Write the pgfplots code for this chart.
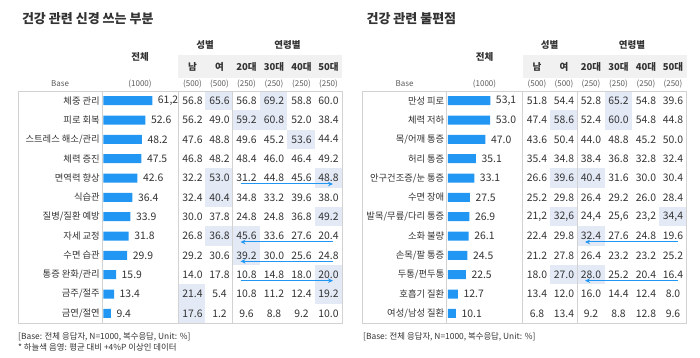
\documentclass[border=0pt]{standalone}
\usepackage{pgfplots}
\pgfplotsset{compat=1.18}
\usepackage{pgfplotstable}
\usetikzlibrary{arrows.meta}
\usepackage{fontspec}
\setmainfont{Noto Sans CJK KR}
\definecolor{barc}{RGB}{33,150,243}
\definecolor{hlc}{RGB}{227,234,246}
\definecolor{bandc}{RGB}{241,241,241}
\definecolor{linec}{RGB}{210,210,210}
\definecolor{txt}{RGB}{51,51,51}
\definecolor{gtxt}{RGB}{90,90,90}
\newcommand{\fs}[1]{\fontsize{#1}{#1}\selectfont}

\pgfplotstableread[col sep=semicolon]{
row;label;tot;totlab;m;f;a;b;c;d
1;체중 관리;61.2;61,2;56.8;65.6;56.8;69.2;58.8;60.0
2;피로 회복;52.6;52.6;56.2;49.0;59.2;60.8;52.0;38.4
3;스트레스 해소/관리;48.2;48.2;47.6;48.8;49.6;45.2;53.6;44.4
4;체력 증진;47.5;47.5;46.8;48.2;48.4;46.0;46.4;49.2
5;면역력 향상;42.6;42.6;32.2;53.0;31.2;44.8;45.6;48.8
6;식습관;36.4;36.4;32.4;40.4;34.8;33.2;39.6;38.0
7;질병/질환 예방;33.9;33.9;30.0;37.8;24.8;24.8;36.8;49.2
8;자세 교정;31.8;31.8;26.8;36.8;45.6;33.6;27.6;20.4
9;수면 습관;29.9;29.9;29.2;30.6;39.2;30.0;25.6;24.8
10;통증 완화/관리;15.9;15.9;14.0;17.8;10.8;14.8;18.0;20.0
11;금주/절주;13.4;13.4;21.4;5.4;10.8;11.2;12.4;19.2
12;금연/절연;9.4;9.4;17.6;1.2;9.6;8.8;9.2;10.0
}\Ltab

\pgfplotstableread[col sep=semicolon]{
row;label;tot;totlab;m;f;a;b;c;d
1;만성 피로;53.1;53,1;51.8;54.4;52.8;65.2;54.8;39.6
2;체력 저하;53.0;53.0;47.4;58.6;52.4;60.0;54.8;44.8
3;목/어깨 통증;47.0;47.0;43.6;50.4;44.0;48.8;45.2;50.0
4;허리 통증;35.1;35.1;35.4;34.8;38.4;36.8;32.8;32.4
5;안구건조증/눈 통증;33.1;33.1;26.6;39.6;40.4;31.6;30.0;30.4
6;수면 장애;27.5;27.5;25.2;29.8;26.4;29.2;26.0;28.4
7;발목/무릎/다리 통증;26.9;26.9;21,2;32,6;24,4;25,6;23,2;34,4
8;소화 불량;26.1;26.1;22.4;29.8;32.4;27.6;24.8;19.6
9;손목/팔 통증;24.5;24.5;21.2;27.8;26.4;23.2;23.2;25.2
10;두통/편두통;22.5;22.5;18.0;27.0;28.0;25.2;20.4;16.4
11;호흡기 질환;12.7;12.7;13.4;12.0;16.0;14.4;12.4;8.0
12;여성/남성 질환;10.1;10.1;6.8;13.4;9.2;8.8;12.8;9.6
}\Rtab

\pgfplotsset{
  txtcol/.style={draw=none, mark=none,
    nodes near coords, point meta=explicit symbolic,
    every node near coord/.append style={font=\fs{10.4}, text=txt, inner sep=0pt, anchor=center}},
  panel/.style={anchor=south west, scale only axis, height=357pt,
    ymin=0, ymax=357, y dir=reverse, xmin=0, hide axis, clip=false},
  barax/.style={anchor=south west, scale only axis, width=80pt, height=232pt,
    xmin=0, xmax=100, ymin=0.5, ymax=12.5, y dir=reverse, hide axis, clip=false,
    xbar, bar width=9pt}
}
% highlight cell: #1 column (1..6), #2 row
\newcommand{\myhl}[2]{\fill[hlc] (axis cs:{178+27.33*(#1-1)},{91+19.33*(#2-1)}) rectangle (axis cs:{178+27.33*#1},{91+19.33*#2});}
\newcommand{\myarR}[1]{\draw[barc, line width=1pt, -{Stealth[length=5pt,width=4.5pt]}] (axis cs:240.5,{91+19.33*(#1-0.5)+6}) -- (axis cs:333,{91+19.33*(#1-0.5)+6});}
\newcommand{\myarL}[1]{\draw[barc, line width=1pt, -{Stealth[length=5pt,width=4.5pt]}] (axis cs:333,{91+19.33*(#1-0.5)+6}) -- (axis cs:240.5,{91+19.33*(#1-0.5)+6});}
\newcommand{\myband}{%
  \fill[bandc] (axis cs:178,55) rectangle (axis cs:342,78);
}
\newcommand{\mylines}{%
  \draw[linec, line width=0.8pt] (axis cs:18,91) rectangle (axis cs:342,323);
  \draw[linec, line width=0.8pt] (axis cs:102,91) -- (axis cs:102,323);
  \draw[linec, line width=0.8pt] (axis cs:178,91) -- (axis cs:178,323);
  \draw[linec, line width=0.8pt] (axis cs:232.7,91) -- (axis cs:232.7,323);
}
\newcommand{\myheaders}{%
  \node[font=\fs{9.5}\bfseries, text=txt] at (axis cs:140,57) {전체};
  \node[font=\fs{9.5}\bfseries, text=txt] at (axis cs:205,45) {성별};
  \node[font=\fs{9.5}\bfseries, text=txt] at (axis cs:287.5,45) {연령별};
  \node[font=\fs{9.5}\bfseries, text=txt] at (axis cs:192.5,67) {남};
  \node[font=\fs{9.5}\bfseries, text=txt] at (axis cs:219.5,67) {여};
  \node[font=\fs{9.5}\bfseries, text=txt] at (axis cs:246.5,67) {20대};
  \node[font=\fs{9.5}\bfseries, text=txt] at (axis cs:274,67) {30대};
  \node[font=\fs{9.5}\bfseries, text=txt] at (axis cs:301.5,67) {40대};
  \node[font=\fs{9.5}\bfseries, text=txt] at (axis cs:328.5,67) {50대};
  \node[font=\fs{8}, text=gtxt] at (axis cs:60,84) {Base};
  \node[font=\fs{8}, text=gtxt] at (axis cs:140,84) {(1000)};
  \node[font=\fs{8}, text=gtxt] at (axis cs:192.5,84) {(500)};
  \node[font=\fs{8}, text=gtxt] at (axis cs:219.5,84) {(500)};
  \node[font=\fs{8}, text=gtxt] at (axis cs:246.5,84) {(250)};
  \node[font=\fs{8}, text=gtxt] at (axis cs:274,84) {(250)};
  \node[font=\fs{8}, text=gtxt] at (axis cs:301.5,84) {(250)};
  \node[font=\fs{8}, text=gtxt] at (axis cs:328.5,84) {(250)};
}
\newcommand{\mycols}[1]{%
  \addplot[txtcol, every node near coord/.append style={anchor=east, font=\fs{9.3}}] table[x expr=100, y expr={91+19.33*(\thisrow{row}-0.5)}, meta=label] {#1};
  \addplot[txtcol] table[x expr=192.5, y expr={91+19.33*(\thisrow{row}-0.5)}, meta=m] {#1};
  \addplot[txtcol] table[x expr=219.5, y expr={91+19.33*(\thisrow{row}-0.5)}, meta=f] {#1};
  \addplot[txtcol] table[x expr=246.5, y expr={91+19.33*(\thisrow{row}-0.5)}, meta=a] {#1};
  \addplot[txtcol] table[x expr=274, y expr={91+19.33*(\thisrow{row}-0.5)}, meta=b] {#1};
  \addplot[txtcol] table[x expr=301.5, y expr={91+19.33*(\thisrow{row}-0.5)}, meta=c] {#1};
  \addplot[txtcol] table[x expr=328.5, y expr={91+19.33*(\thisrow{row}-0.5)}, meta=d] {#1};
}
\newcommand{\mybars}[1]{%
  \addplot[fill=barc, draw=none, nodes near coords, point meta=explicit symbolic,
    every node near coord/.append style={anchor=west, font=\fs{10.4}, text=txt, inner sep=0pt, xshift=5.5pt}]
    table[x=tot, y=row, meta=totlab] {#1};
}

\begin{document}
\begin{tikzpicture}
\useasboundingbox (0,0) rectangle (700pt,357pt);
% ---------- left panel ----------
\begin{axis}[panel, at={(0pt,0pt)}, width=350pt, xmax=350]
  \myband
  \myhl{2}{1}\myhl{4}{1}
  \myhl{3}{2}\myhl{4}{2}
  \myhl{5}{3}
  \myhl{2}{5}\myhl{6}{5}
  \myhl{2}{6}
  \myhl{6}{7}
  \myhl{2}{8}\myhl{3}{8}
  \myhl{3}{9}
  \myhl{6}{10}
  \myhl{1}{11}\myhl{6}{11}
  \myhl{1}{12}
  \mylines
  \node[anchor=west, font=\fs{13}\bfseries, text=txt] at (axis cs:18.5,18.5) {건강 관련 신경 쓰는 부분};
  \myheaders
  \mycols{\Ltab}
  \myarR{5}\myarL{8}\myarL{9}\myarR{10}
  \node[anchor=west, font=\fs{8.4}, text=txt, inner sep=0pt] at (axis cs:18,336.7) {[Base: 전체 응답자, N=1000, 복수응답, Unit: \%]};
  \node[anchor=west, font=\fs{8.4}, text=txt, inner sep=0pt] at (axis cs:18,347.5) {* 하늘색 음영: 평균 대비 +4\%P 이상인 데이터};
\end{axis}
\begin{axis}[barax, at={(103.3pt,34pt)}]
  \mybars{\Ltab}
\end{axis}
% ---------- right panel ----------
\begin{axis}[panel, at={(344.5pt,0pt)}, width=355.5pt, xmax=355.5]
  \myband
  \myhl{4}{1}
  \myhl{2}{2}\myhl{4}{2}
  \myhl{2}{5}\myhl{3}{5}
  \myhl{2}{7}\myhl{6}{7}
  \myhl{3}{8}
  \myhl{2}{10}\myhl{3}{10}
  \mylines
  \node[anchor=west, font=\fs{13}\bfseries, text=txt] at (axis cs:18.5,18.5) {건강 관련 불편점};
  \myheaders
  \mycols{\Rtab}
  \myarL{8}\myarL{10}
  \node[anchor=west, font=\fs{8.4}, text=txt, inner sep=0pt] at (axis cs:18.5,336.7) {[Base: 전체 응답자, N=1000, 복수응답, Unit: \%]};
\end{axis}
\begin{axis}[barax, at={(447.8pt,34pt)}]
  \mybars{\Rtab}
\end{axis}
\end{tikzpicture}
\end{document}
